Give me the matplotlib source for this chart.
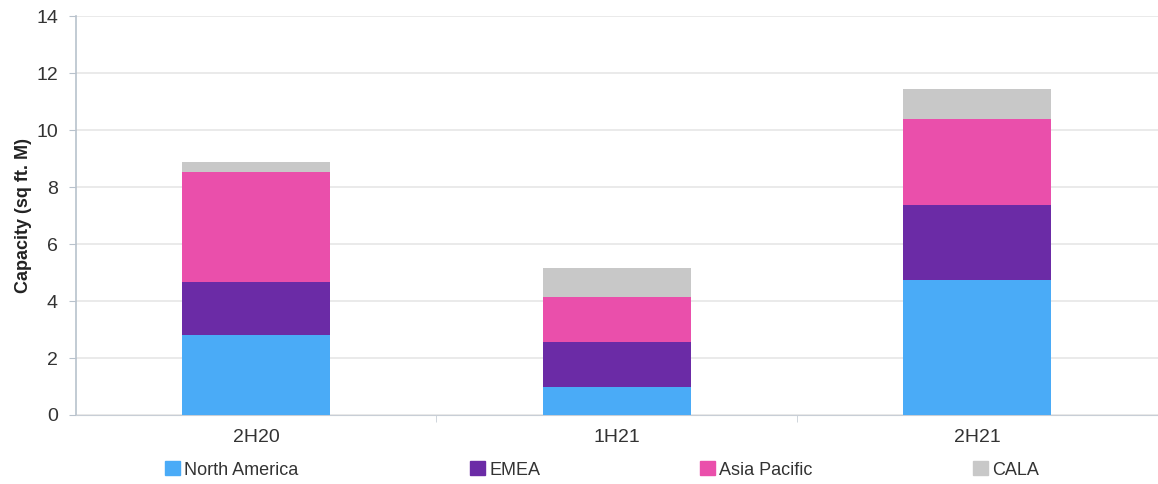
import matplotlib.pyplot as plt
import matplotlib.patches as mpatches
import numpy as np

plt.rcParams['font.family'] = ['Liberation Sans', 'DejaVu Sans']

periods = ['2H20', '1H21', '2H21']
regions = ['North America', 'EMEA', 'Asia Pacific', 'CALA']
north_america = [2.81, 0.99, 4.74]
emea = [1.85, 1.56, 2.63]
asia_pacific = [3.87, 1.60, 3.01]
cala = [0.36, 1.00, 1.05]

colors = ['#4AABF7', '#6B2BA6', '#EA4FAB', '#C8C8C8']
series = [north_america, emea, asia_pacific, cala]

fig = plt.figure(figsize=(11.58, 4.84), dpi=100)
ax = fig.add_axes([0.0656, 0.1426, 0.934, 0.824])

x = np.arange(len(periods))
bottom = np.zeros(len(periods))
for vals, c in zip(series, colors):
    ax.bar(x, vals, width=0.41, bottom=bottom, color=c, zorder=3)
    bottom += np.array(vals)

ax.set_xlim(-0.5, 2.5)
ax.set_ylim(0, 14)
ax.set_yticks(range(0, 15, 2))
ax.yaxis.grid(True, color='#e6e6e6', linewidth=1.2, zorder=0)

ax.set_xticks(x)
ax.set_xticklabels(periods)
ax.set_xticks([0.5, 1.5], minor=True)
ax.tick_params(axis='x', which='major', length=0, pad=10, labelsize=14, labelcolor='#333333')
ax.tick_params(axis='x', which='minor', length=5, color='#c8ced6')
ax.tick_params(axis='y', length=5, color='#b8c2cc', labelsize=14, labelcolor='#333333', pad=8)

for s in ['top', 'right']:
    ax.spines[s].set_visible(False)
ax.spines['left'].set_color('#b8c2cc')
ax.spines['bottom'].set_color('#c8ced6')
ax.spines['left'].set_linewidth(1.2)

ax.set_ylabel('Capacity (sq ft. M)', fontsize=13, fontweight='bold', color='#222222', labelpad=3)

leg_x = [171, 476, 706, 979]
for name, c, lx in zip(regions, colors, leg_x):
    h = mpatches.Patch(color=c, label=name)
    fig.legend(handles=[h], loc='center left', bbox_to_anchor=(lx / 1158 - 0.005, 1 - 470 / 484),
               frameon=False, fontsize=13, handlelength=0.8, handleheight=0.8,
               handletextpad=0.25, borderpad=0, borderaxespad=0, labelcolor='#333333')

fig.savefig('out.png', dpi=100)
